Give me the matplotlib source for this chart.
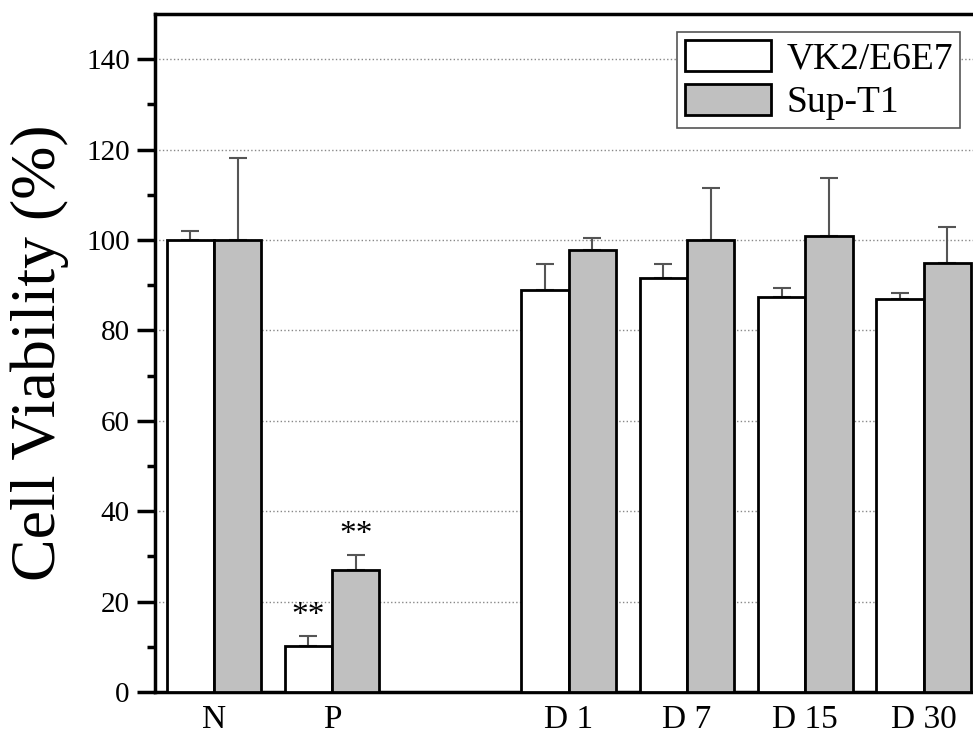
import numpy as np
import matplotlib
matplotlib.use('Agg')
import matplotlib.pyplot as plt

plt.rcParams['font.family'] = ['Liberation Serif', 'DejaVu Serif']

groups = ['N', 'P', 'D 1', 'D 7', 'D 15', 'D 30']
pos = [0, 1, 3, 4, 5, 6]
vk2 = [100.0, 10.2, 88.9, 91.6, 87.4, 87.0]
vk2_err = [2.0, 2.2, 5.7, 3.1, 1.9, 1.3]
sup = [100.0, 26.9, 97.7, 100.0, 100.9, 94.9]
sup_err = [18.1, 3.5, 2.8, 11.4, 12.9, 7.9]
stars_vk2 = ['', '**', '', '', '', '']
stars_sup = ['', '**', '', '', '', '']

fig = plt.figure(figsize=(9.73, 7.40), dpi=100)
ax = fig.add_axes([0.159, 0.065, 1.010 - 0.159, 0.916])

w = 0.4
x = np.array(pos, dtype=float)
ax.bar(x - w / 2, vk2, w, color='white', edgecolor='black', linewidth=2,
       label='VK2/E6E7', zorder=3)
ax.bar(x + w / 2, sup, w, color='#c0c0c0', edgecolor='black', linewidth=2,
       label='Sup-T1', zorder=3)

# upper error bars only, lower caps hidden under the bar edges
err_kw = dict(fmt='none', ecolor='#555555', elinewidth=1.5, capsize=6.5,
              capthick=1.5, zorder=2)
ax.errorbar(x - w / 2, vk2, yerr=[np.zeros(len(vk2)), vk2_err], **err_kw)
ax.errorbar(x + w / 2, sup, yerr=[np.zeros(len(sup)), sup_err], **err_kw)

for xi, v, e, s in zip(x - w / 2, vk2, vk2_err, stars_vk2):
    if s:
        ax.text(xi, v + e + 1.0, s, ha='center', va='bottom', fontsize=24)
for xi, v, e, s in zip(x + w / 2, sup, sup_err, stars_sup):
    if s:
        ax.text(xi, v + e + 1.0, s, ha='center', va='bottom', fontsize=24)

ax.set_xlim(-0.5, 6.5)
ax.set_ylim(0, 150)
ax.set_yticks(np.arange(0, 141, 20))
ax.set_yticks(np.arange(10, 141, 20), minor=True)
ax.set_xticks(pos)
ax.set_xticklabels(groups, fontsize=24)
ax.tick_params(axis='x', length=0, pad=9)
ax.tick_params(axis='y', which='major', length=13, width=2.5, labelsize=21, pad=5)
ax.tick_params(axis='y', which='minor', length=6, width=2.5)
ax.yaxis.grid(True, linestyle=':', color='#888888', linewidth=1, zorder=0)
ax.set_axisbelow(True)

for side in ['left', 'bottom', 'top']:
    ax.spines[side].set_linewidth(2.5)
ax.spines['right'].set_visible(False)

ax.set_ylabel('Cell Viability (%)', fontsize=46, labelpad=12)

leg = ax.legend(loc='upper right', bbox_to_anchor=(0.973, 0.973), fontsize=27,
                fancybox=False, framealpha=1, edgecolor='#555555',
                handlelength=2.3, handleheight=0.9, borderpad=0.2,
                labelspacing=0.2, handletextpad=0.4, borderaxespad=0)
leg.get_frame().set_linewidth(1.2)

fig.savefig('out.png', dpi=100)
